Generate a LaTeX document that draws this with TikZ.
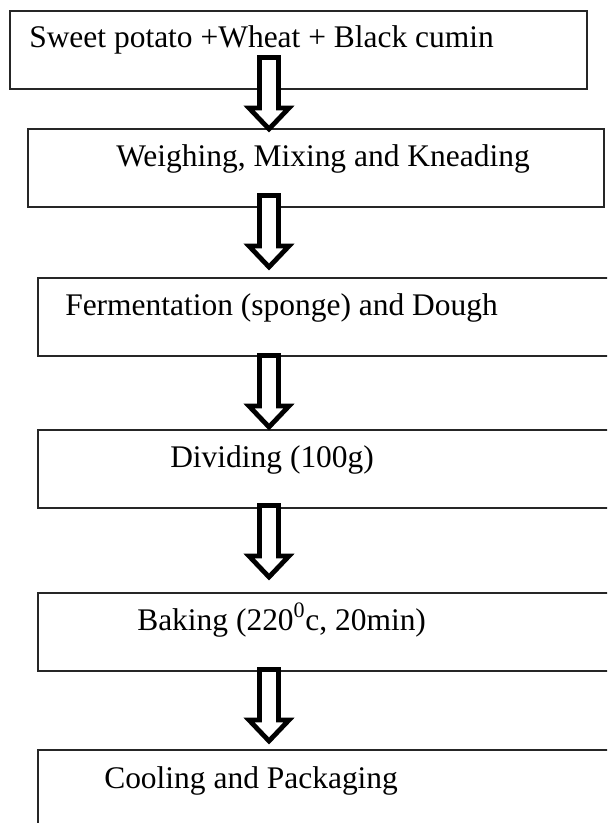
\documentclass[tikz,border=0pt]{standalone}
\usepackage{fontspec}
\setmainfont{Liberation Serif}

\begin{document}
\begin{tikzpicture}[x=0.75pt,y=-0.75pt,
    stepbox/.style={draw=black!85, line width=1.3pt, rectangle, anchor=north west, inner sep=0pt, minimum height=78*0.75pt},
    steptext/.style={anchor=base west, inner sep=0pt, font=\fontsize{23.6}{28}\selectfont},
    pics/hollowarrow/.style={code={
        \draw[line width=3.6pt, fill=white] (-9.5,2.5) -- (9.5,2.5) -- (9.5,53) -- (20,53) -- (0,74) -- (-20,53) -- (-9.5,53) -- cycle;
    }}]
    \useasboundingbox[fill=white] (0,0) rectangle (607,823);
    \clip (0,0) rectangle (607,823);

    % boxes
    \node[stepbox, minimum width=577*0.75pt] (b1) at (9,10) {};
    \node[stepbox, minimum width=576*0.75pt] (b2) at (27,128) {};
    \node[stepbox, minimum width=590*0.75pt] (b3) at (37,277) {};
    \node[stepbox, minimum width=590*0.75pt] (b4) at (37,429) {};
    \node[stepbox, minimum width=590*0.75pt] (b5) at (37,592) {};
    \node[stepbox, minimum width=590*0.75pt] (b6) at (37,749) {};

    % texts
    \node[steptext] (t1) at (29,48) {Sweet potato +Wheat + Black cumin};
    \node[steptext] (t2) at (116,167) {Weighing, Mixing and Kneading};
    \node[steptext] (t3) at (65,315) {Fermentation (sponge) and Dough};
    \node[steptext] (t4) at (170,467) {Dividing (100g)};
    \node[steptext] (t5) at (137,630) {Baking (220\textsuperscript{0}c, 20min)};
    \node[steptext] (t6) at (104,788) {Cooling and Packaging};

    % arrows
    \foreach \y in {55, 193, 353, 503, 667}
        \pic at (269,\y) {hollowarrow};
\end{tikzpicture}
\end{document}
